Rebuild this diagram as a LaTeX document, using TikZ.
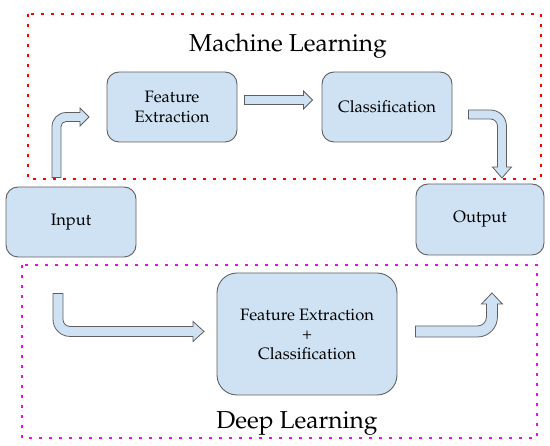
\documentclass[tikz,border=0pt]{standalone}
\usepackage[T1]{fontenc}
\usepackage{mathpazo}
\usetikzlibrary{calc}
\definecolor{boxblue}{HTML}{CFE2F3}
\definecolor{edgegray}{HTML}{5F5F5F}
\definecolor{mlred}{HTML}{FF0000}
\definecolor{dlpink}{HTML}{FF00FF}
\tikzset{
	blk/.style={draw=edgegray, fill=boxblue, line width=0.9pt, rounded corners=12pt, align=center,
		font=\fontsize{16.5}{19.5}\selectfont},
	fatarrow/.style={draw=edgegray, fill=boxblue, line width=0.8pt},
	dotbox/.style={line width=2.8pt, dash pattern=on 2.8pt off 7.2pt},
	title/.style={font=\fontsize{24.5}{28}\selectfont, anchor=base}
}
\begin{document}
\begin{tikzpicture}[x=1pt, y=-1pt]
	\useasboundingbox (0,0) rectangle (550,446);
	% dotted frames
	\draw[dotbox, mlred] (28,14) rectangle (541,179);
	\draw[dotbox, dlpink] (22,265) rectangle (537,438);
	\node[title] (ml) at (288,52) {Machine Learning};
	\node[title] (dl) at (297,429) {Deep Learning};
	% boxes
	\node[blk, minimum width=130pt, minimum height=70pt] (in) at (71,222) {Input};
	\node[blk, minimum width=130pt, minimum height=70pt] (fe) at (172,107) {Feature\\Extraction};
	\node[blk, minimum width=130pt, minimum height=70pt] (cls) at (387,107) {Classification};
	\node[blk, minimum width=128pt, minimum height=71pt] (out) at (480,219.5) {Output};
	\node[blk, rounded corners=20pt, minimum width=180pt, minimum height=122pt] (fc) at (307,334) {Feature Extraction\\+\\Classification};
	% arrows, machine learning
	\coordinate (s1) at ($(in.north)+(-19,-9)$);
	\draw[fatarrow] (s1) -- ++(0,-51) .. controls +(0,-7.7) and +(-7.7,0) .. ++(14,-14)
		-- ++(14,0) -- ++(0,-4.5) -- ++(9,9) -- ++(-9,9) -- ++(0,-4.5) -- ++(-14,0)
		.. controls +(-2.8,0) and +(0,-2.8) .. ++(-5,5) -- ++(0,51) -- cycle;
	\coordinate (s2) at ($(fe.east)+(7,-11.5)$);
	\draw[fatarrow] (s2) -- ++(59,0) -- ++(0,-4.5) -- ++(9,9) -- ++(-9,9) -- ++(0,-4.5) -- ++(-59,0) -- cycle;
	\coordinate (s3) at ($(cls.east)+(16,3)$);
	\draw[fatarrow] (s3) -- ++(22,0) .. controls +(8.8,0) and +(0,-8.8) .. ++(16,16)
		-- ++(0,41) -- ++(5,0) -- ++(-9.5,11) -- ++(-9.5,-11) -- ++(5,0) -- ++(0,-41)
		.. controls +(0,-3.9) and +(3.9,0) .. ++(-7,-7) -- ++(-22,0) -- cycle;
	% arrows, deep learning
	\coordinate (s4) at ($(in.south)+(-18,36)$);
	\draw[fatarrow] (s4) -- ++(0,26) .. controls +(0,9.4) and +(-9.4,0) .. ++(17,17)
		-- ++(123,0) -- ++(0,5) -- ++(11,-10) -- ++(-11,-10) -- ++(0,5) -- ++(-123,0)
		.. controls +(-3.9,0) and +(0,3.9) .. ++(-7,-7) -- ++(0,-26) -- cycle;
	\coordinate (s5) at ($(fc.east)+(18,-8)$);
	\draw[fatarrow] (s5) -- ++(62,0) .. controls +(5,0) and +(0,5) .. ++(9,-9)
		-- ++(0,-13) -- ++(-5,0) -- ++(10.5,-11) -- ++(10.5,11) -- ++(-5,0) -- ++(0,13)
		.. controls +(0,11) and +(11,0) .. ++(-20,20) -- ++(-62,0) -- cycle;
\end{tikzpicture}
\end{document}
